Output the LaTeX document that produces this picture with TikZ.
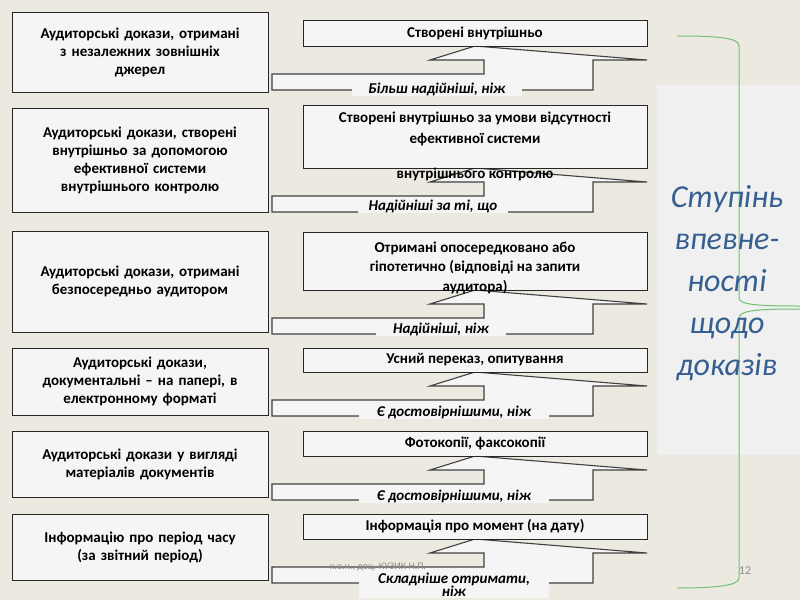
\documentclass[tikz,border=0pt]{standalone}
\usepackage{fontspec}
\setmainfont{Carlito}
\setsansfont{Carlito}
\begin{document}
\begin{tikzpicture}[x=1pt,y=-1pt,
  lbox/.style={draw=black!85,line width=0.8pt,fill=black!4,align=center,font=\bfseries\fontsize{15}{18}\selectfont,inner sep=2pt},
  rbox/.style={draw=black!85,line width=0.8pt,fill=black!4,align=center,font=\bfseries\fontsize{15}{18}\selectfont,inner sep=2pt},
  lab/.style={fill=black!4,font=\bfseries\itshape\fontsize{15}{15}\selectfont,inner sep=1pt},
  arr/.style={draw=black!75,line width=1.1pt,fill=black!4}]
\fill[fill={rgb,255:red,236;green,233;blue,224}] (0,0) rectangle (800,600);
\useasboundingbox (0,0) rectangle (800,600);
\fill[black!6] (657,85) rectangle (800,455);
\newcommand{\arrowshape}[1]{\draw[arr] (272,#1+28)--(484,#1+28)--(484,#1+14)--(430,#1+14)--(475,#1)--(647,#1+14)--(593,#1+14)--(593,#1+44)--(272,#1+44)--cycle;}
\arrowshape{46}\arrowshape{168}\arrowshape{290}\arrowshape{372}\arrowshape{456}\arrowshape{539}
% left boxes
\node[lbox,minimum width=256,minimum height=80,text width=250] (l1) at (140,52) {Аудиторські докази, отримані\\з незалежних зовнішніх\\джерел};
\node[lbox,minimum width=256,minimum height=104,text width=250] (l2) at (140,160) {Аудиторські докази, створені\\внутрішньо за допомогою\\ефективної системи\\внутрішнього контролю};
\node[lbox,minimum width=256,minimum height=101,text width=250] (l3) at (140,281.5) {Аудиторські докази, отримані\\безпосередньо аудитором};
\node[lbox,minimum width=256,minimum height=67,text width=250] (l4) at (140,381.5) {Аудиторські докази,\\документальні – на папері, в\\електронному форматі};
\node[lbox,minimum width=256,minimum height=66,text width=250] (l5) at (140,464) {Аудиторські докази у вигляді\\матеріалів документів};
\node[lbox,minimum width=256,minimum height=66,text width=250] (l6) at (140,547) {Інформацію про період часу\\(за звітний період)};
% right boxes
\node[rbox,minimum width=344,minimum height=26] (r1) at (475,33) {Створені внутрішньо};
\node[rbox,minimum width=344,minimum height=63,text width=338,anchor=north] (r2) at (475,105) {};
\node[font=\bfseries\fontsize{15}{21}\selectfont,align=center,anchor=north] (r2t) at (475,108) {Створені внутрішньо за умови відсутності\\ефективної системи};
\node[font=\bfseries\fontsize{15}{15}\selectfont] (r2b) at (475,174) {внутрішнього контролю};
\node[rbox,minimum width=344,minimum height=58,anchor=north] (r3) at (475,232) {};
\node[font=\bfseries\fontsize{15}{19.5}\selectfont,align=center,anchor=north] (r3t) at (475,238) {Отримані опосередковано або\\гіпотетично (відповіді на запити\\аудитора)};
\node[rbox,minimum width=344,minimum height=24] (r4) at (475,360) {Усний переказ, опитування};
\node[rbox,minimum width=344,minimum height=25] (r5) at (475,443.5) {Фотокопії, факсокопії};
\node[rbox,minimum width=344,minimum height=25] (r6) at (475,526.5) {Інформація про момент (на дату)};
% labels
\node[lab,minimum width=170] (a1) at (437,89) {Більш надійніші, ніж};
\node[lab,minimum width=150] (a2) at (433,206) {Надійніші за ті, що};
\node[lab,minimum width=130] (a3) at (441,329) {Надійніші, ніж};
\node[lab,minimum width=190] (a4) at (454,412) {Є достовірнішими, ніж};
\node[lab,minimum width=190] (a5) at (454,496) {Є достовірнішими, ніж};
\node[font=\fontsize{10}{11}\selectfont,text=black!45] (ft) at (378,567) {к.е.н., доц. КУЗИК Н.П.};
\node[lab,minimum width=190,align=center,anchor=north,font=\bfseries\itshape\fontsize{15}{13}\selectfont] (a6) at (454,572) {Складніше отримати,\\ніж};
% brace
\draw[green!55!black!55!white,line width=1pt] (677,36) .. controls (720,36) and (739,38) .. (739,46) -- (739,298) .. controls (739,305) and (760,306) .. (800,306);
\draw[green!55!black!55!white,line width=1pt] (800,309) .. controls (760,309) and (739,310) .. (739,318) -- (739,578) .. controls (739,585) and (720,588) .. (677,588);
\node[font=\fontsize{12}{13}\selectfont,text=black!45] (pg) at (745,571) {12};
\node[font=\itshape\fontsize{32}{42}\selectfont,text={rgb,255:red,54;green,95;blue,145},align=center] (st) at (727,283) {Ступінь\\впевне-\\ності\\щодо\\доказів};
\end{tikzpicture}
\end{document}
